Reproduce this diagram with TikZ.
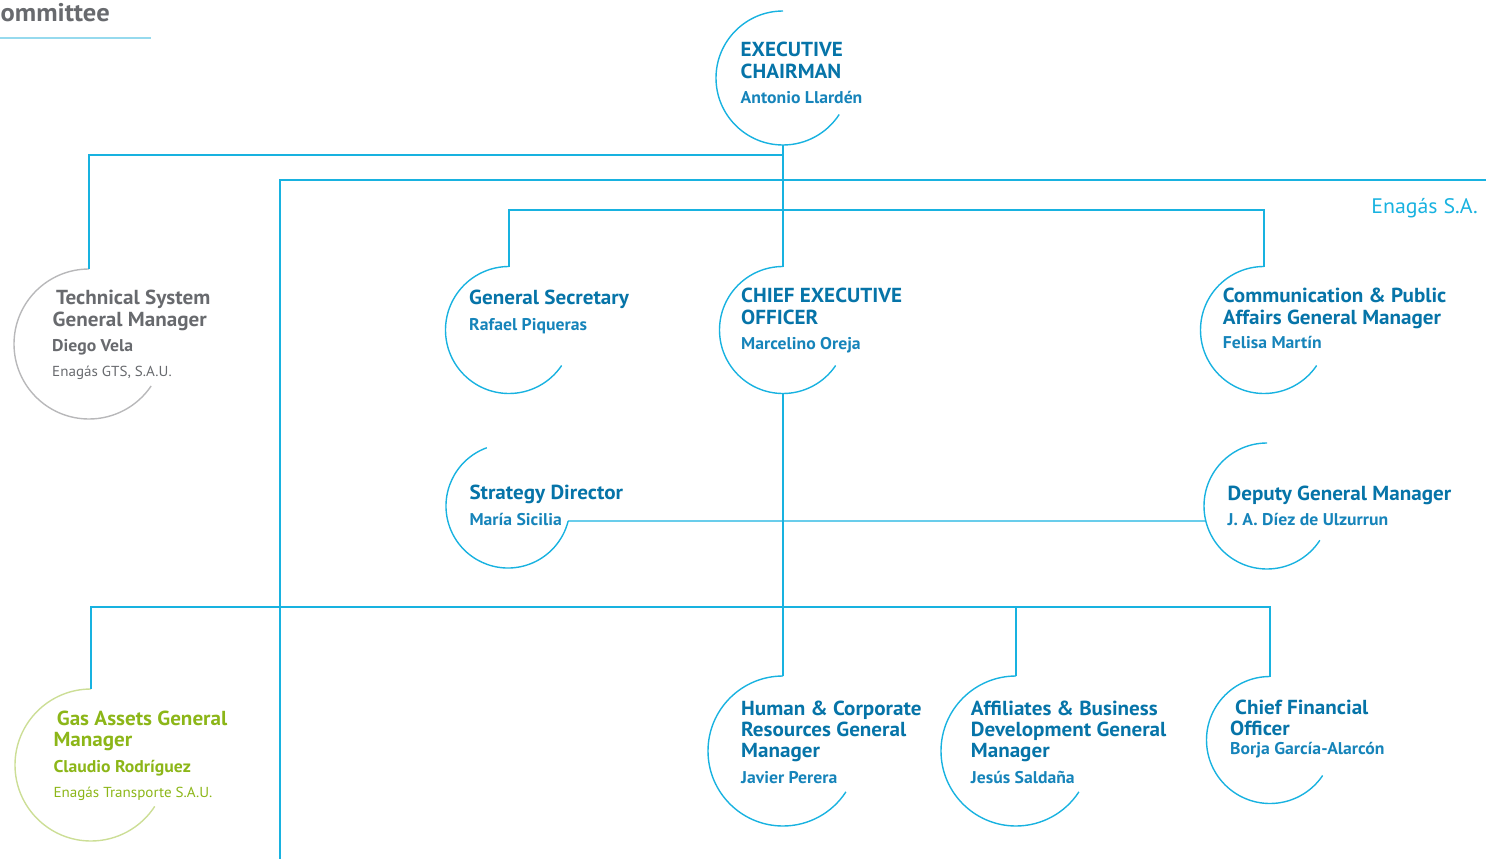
\documentclass[tikz,border=0pt]{standalone}
\usepackage{fontspec}
\setmainfont[FakeStretch=1.04]{PT Sans}
\usetikzlibrary{calc}
\definecolor{lineblue}{RGB}{24,178,224}
\definecolor{titleblue}{RGB}{6,116,168}
\definecolor{nameblue}{RGB}{22,132,186}
\definecolor{greytext}{RGB}{104,106,110}
\definecolor{greyring}{RGB}{184,184,186}
\definecolor{greentext}{RGB}{140,182,24}
\definecolor{greenring}{RGB}{204,222,150}
\definecolor{headline}{RGB}{150,218,238}
\tikzset{
  conn/.style={draw=lineblue, line width=1.4pt},
  ring/.style={draw=lineblue, line width=1.4pt},
  ttl/.style={anchor=base west, inner sep=0pt, font=\bfseries\fontsize{20.3}{22}\selectfont, text=titleblue},
  nm/.style={anchor=base west, inner sep=0pt, font=\bfseries\fontsize{17}{19}\selectfont, text=nameblue},
  sub/.style={anchor=base west, inner sep=0pt, font=\fontsize{14.5}{16}\selectfont},
}
\begin{document}
\begin{tikzpicture}[x=1pt,y=1pt]
\useasboundingbox (0,0) rectangle (1486,-859);

% heading
\node[anchor=base west, inner sep=0pt, font=\bfseries\fontsize{25.5}{28}\selectfont, text=greytext] (head) at (0.5,-21.7) {ommittee};
\coordinate (hl-a) at (0,-37.7);
\coordinate (hl-b) at (150.7,-37.7);
\draw[draw=headline, line width=1.8pt] (hl-a) -- (hl-b);

% ring centres
\coordinate (chair-c) at (783,-78);
\coordinate (tech-c) at (89,-344);
\coordinate (gs-c) at (509,-330);
\coordinate (ceo-c) at (783,-330);
\coordinate (cm-c) at (1264,-330);
\coordinate (st-c) at (508,-506);
\coordinate (dp-c) at (1267,-506);
\coordinate (gas-c) at (91,-765);
\coordinate (hr-c) at (783,-751);
\coordinate (af-c) at (1016,-751);
\coordinate (cfo-c) at (1270,-740);

% rings
\draw[ring] ($(chair-c)+(90:67)$) arc[start angle=90, end angle=327, radius=67pt];
\draw[draw=greyring, line width=1.4pt] ($(tech-c)+(90:75)$) arc[start angle=90, end angle=326, radius=75pt];
\draw[ring] ($(gs-c)+(90:63.5)$) arc[start angle=90, end angle=326, radius=63.5pt];
\draw[ring] ($(ceo-c)+(90:63.5)$) arc[start angle=90, end angle=326, radius=63.5pt];
\draw[ring] ($(cm-c)+(90:63.5)$) arc[start angle=90, end angle=326, radius=63.5pt];
\draw[ring] ($(st-c)+(110:62)$) arc[start angle=110, end angle=346, radius=62pt];
\draw[ring] ($(dp-c)+(90:63)$) arc[start angle=90, end angle=327, radius=63pt];
\draw[draw=greenring, line width=1.4pt] ($(gas-c)+(90:76)$) arc[start angle=90, end angle=327, radius=76pt];
\draw[ring] ($(hr-c)+(90:75)$) arc[start angle=90, end angle=327, radius=75pt];
\draw[ring] ($(af-c)+(90:75)$) arc[start angle=90, end angle=327, radius=75pt];
\draw[ring] ($(cfo-c)+(90:63.5)$) arc[start angle=90, end angle=326, radius=63.5pt];

% connector points
\coordinate (chair-b) at ($(chair-c)+(270:67)$);
\coordinate (tech-top) at ($(tech-c)+(90:75)$);
\coordinate (gs-top) at ($(gs-c)+(90:63.5)$);
\coordinate (ceo-top) at ($(ceo-c)+(90:63.5)$);
\coordinate (ceo-b) at ($(ceo-c)+(270:63.5)$);
\coordinate (cm-top) at ($(cm-c)+(90:63.5)$);
\coordinate (st-end) at ($(st-c)+(346:62)$);
\coordinate (dp-left) at (1206,-521);
\coordinate (gas-top) at ($(gas-c)+(90:76)$);
\coordinate (hr-top) at ($(hr-c)+(90:75)$);
\coordinate (af-top) at ($(af-c)+(90:75)$);
\coordinate (cfo-top) at ($(cfo-c)+(90:63.5)$);
\coordinate (j155) at (783,-155);
\coordinate (bar210) at (783,-210);
\coordinate (bar607) at (783,-607);
\coordinate (en-right) at (1486,-180);
\coordinate (en-corner) at (280,-180);
\coordinate (en-bottom) at (280,-859);

% connectors
\draw[conn] (chair-b) -- (ceo-top);
\draw[conn] (j155) -| (tech-top);
\draw[conn] (en-right) -- (en-corner) -- (en-bottom);
\draw[conn] (gs-top) |- (bar210) -| (cm-top);
\draw[conn] (ceo-b) -- (hr-top);
\draw[conn] (st-end) -- (dp-left);
\draw[conn] (gas-top) |- (bar607) -| (cfo-top);
\draw[conn] (af-top) |- (bar607);

% Enagás S.A.
\node[anchor=base east, inner sep=0pt, font=\fontsize{21}{23}\selectfont, text=lineblue] (enagas) at (1478,-213.3) {Enagás S.A.};

% Executive chairman
\node[ttl] (chair-t1) at (740.5,-57) {EXECUTIVE};
\node[ttl] (chair-t2) at (740.5,-78) {CHAIRMAN};
\node[nm] (chair-n) at (740.5,-103) {Antonio Llardén};

% Technical system
\node[ttl, text=greytext] (tech-t1) at (56,-304.3) {Technical System};
\node[ttl, text=greytext] (tech-t2) at (52.5,-326) {General Manager};
\node[nm, text=greytext] (tech-n) at (52,-351.7) {Diego Vela};
\node[sub, text=greytext] (tech-s) at (52,-376) {Enagás GTS, S.A.U.};

% General secretary
\node[ttl] (gs-t1) at (469,-304) {General Secretary};
\node[nm] (gs-n) at (469,-330) {Rafael Piqueras};

% CEO
\node[ttl] (ceo-t1) at (741,-302.7) {CHIEF EXECUTIVE};
\node[ttl] (ceo-t2) at (741,-324) {OFFICER};
\node[nm] (ceo-n) at (741,-349.5) {Marcelino Oreja};

% Communication
\node[ttl] (cm-t1) at (1222.7,-302.7) {Communication \& Public};
\node[ttl] (cm-t2) at (1222.7,-324) {Affairs General Manager};
\node[nm] (cm-n) at (1222.7,-348.3) {Felisa Martín};

% Strategy
\node[ttl] (st-t1) at (469.3,-499.3) {Strategy Director};
\node[nm] (st-n) at (469.3,-525) {María Sicilia};

% Deputy
\node[ttl] (dp-t1) at (1227.5,-500) {Deputy General Manager};
\node[nm] (dp-n) at (1227.5,-525.7) {J. A. Díez de Ulzurrun};

% Gas assets
\node[ttl, text=greentext] (gas-t1) at (56.7,-725) {Gas Assets General};
\node[ttl, text=greentext] (gas-t2) at (53.3,-746) {Manager};
\node[nm, text=greentext] (gas-n) at (53.3,-772.7) {Claudio Rodríguez};
\node[sub, text=greentext] (gas-s) at (53.3,-797.3) {Enagás Transporte S.A.U.};

% Human & corporate
\node[ttl] (hr-t1) at (741,-715) {Human \& Corporate};
\node[ttl] (hr-t2) at (741,-736.3) {Resources General};
\node[ttl] (hr-t3) at (741,-757.7) {Manager};
\node[nm] (hr-n) at (741,-783.3) {Javier Perera};

% Affiliates
\node[ttl] (af-t1) at (970.7,-715) {Affiliates \& Business};
\node[ttl] (af-t2) at (970.7,-736.3) {Development General};
\node[ttl] (af-t3) at (970.7,-757.7) {Manager};
\node[nm] (af-n) at (970.7,-783.3) {Jesús Saldaña};

% CFO
\node[ttl] (cfo-t1) at (1235,-714) {Chief Financial};
\node[ttl] (cfo-t2) at (1230,-735) {Officer};
\node[nm] (cfo-n) at (1230,-754.3) {Borja García-Alarcón};
\end{tikzpicture}
\end{document}
